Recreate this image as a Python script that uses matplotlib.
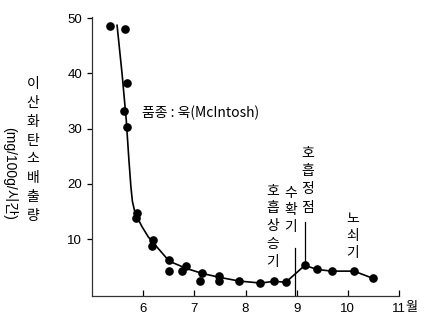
import matplotlib.pyplot as plt

plt.rcParams['font.family'] = ['Liberation Sans', 'Noto Sans CJK KR', 'DejaVu Sans']

# measured CO2 output (mg/100g/h) by month
months = [5.36, 5.65, 5.69, 5.63, 5.69, 5.88, 5.86, 6.20, 6.18, 6.51, 6.51,
          6.84, 6.76, 7.15, 7.11, 7.48, 7.48, 7.88, 8.29, 8.56, 8.79,
          9.16, 9.40, 9.69, 10.12, 10.49]
co2 = [48.5, 48.0, 38.2, 33.1, 30.2, 14.8, 13.8, 9.8, 8.7, 6.3, 4.3,
       5.1, 4.2, 3.8, 2.5, 3.4, 2.4, 2.4, 2.0, 2.35, 2.2,
       5.25, 4.5, 4.2, 4.2, 2.9]

# hand-fitted trend line
trend_x = [5.49, 5.59, 5.67, 5.72, 5.76, 5.79, 5.83, 5.88, 5.98, 6.10, 6.20,
           6.51, 6.84, 7.15, 7.48, 7.88, 8.29, 8.56, 8.79, 9.16, 9.40,
           9.69, 10.12, 10.49]
trend_y = [48.7, 39.7, 31.5, 24.5, 19.5, 16.8, 15.2, 14.0, 12.2, 10.4, 9.3,
           6.0, 4.7, 3.8, 3.1, 2.4, 2.05, 2.35, 2.2, 5.25, 4.5,
           4.2, 4.2, 2.9]

harvest_x = 8.97
peak_x, peak_y = 9.16, 5.25

xticks = [6, 7, 8, 9, 10, 11]
xlabels = ['6', '7', '8', '9', '10', '11']
yticks = [10, 20, 30, 40, 50]

W, H = 434, 325
fig = plt.figure(figsize=(W / 100, H / 100), dpi=100)
ax = fig.add_axes([92 / W, 1 - 296 / H, (399 - 92) / W, (296 - 17) / H])

ax.plot(trend_x, trend_y, color='black', lw=1.2)
ax.plot(months, co2, 'o', color='black', ms=5.2)

ax.plot([harvest_x, harvest_x], [-0.3, 8.4], color='black', lw=0.9)
ax.plot([peak_x, peak_x], [peak_y, 13.1], color='black', lw=0.9)

ax.set_xlim(5, 11)
ax.set_ylim(-0.3, 50.2)
ax.set_xticks(xticks)
ax.set_xticklabels(xlabels)
ax.set_yticks(yticks)
for s in ['top', 'right']:
    ax.spines[s].set_visible(False)
for s in ['left', 'bottom']:
    ax.spines[s].set_linewidth(0.9)
    ax.spines[s].set_color('#333333')
ax.tick_params(axis='x', direction='in', length=4.3, width=0.9, pad=5, labelsize=9.5)
ax.tick_params(axis='y', direction='out', length=3.6, width=0.9, pad=3.5, labelsize=9.5)

KR = ['Noto Sans CJK KR', 'DejaVu Sans']


def px(x, y):
    return x / W, 1 - y / H


def column(text, x, y, size=10, ls=1.2):
    fig.text(*px(x, y), '\n'.join(text), ha='center', va='center',
             fontsize=size, linespacing=ls, family=KR)


fig.text(*px(405, 308), '월', ha='left', va='center', fontsize=9.5, family=KR)

column('이산화탄소배출량', 33, 150, ls=1.45)
fig.text(*px(10, 173), '(mg/100g/시간)', rotation=-90, ha='center', va='center',
         fontsize=10, family=['Liberation Sans', 'Noto Sans CJK KR'])

column('호흡상승기', 273, 226, ls=1.35)
column('수확기', 291, 210, ls=1.3)
column('호흡정점', 308, 180, ls=1.4)
column('노쇠기', 353, 236, ls=1.25)

fig.text(*px(142, 113), '품종 : 욱(McIntosh)', ha='left', va='center', fontsize=10,
         family=KR)

fig.savefig('out.png', dpi=100)
